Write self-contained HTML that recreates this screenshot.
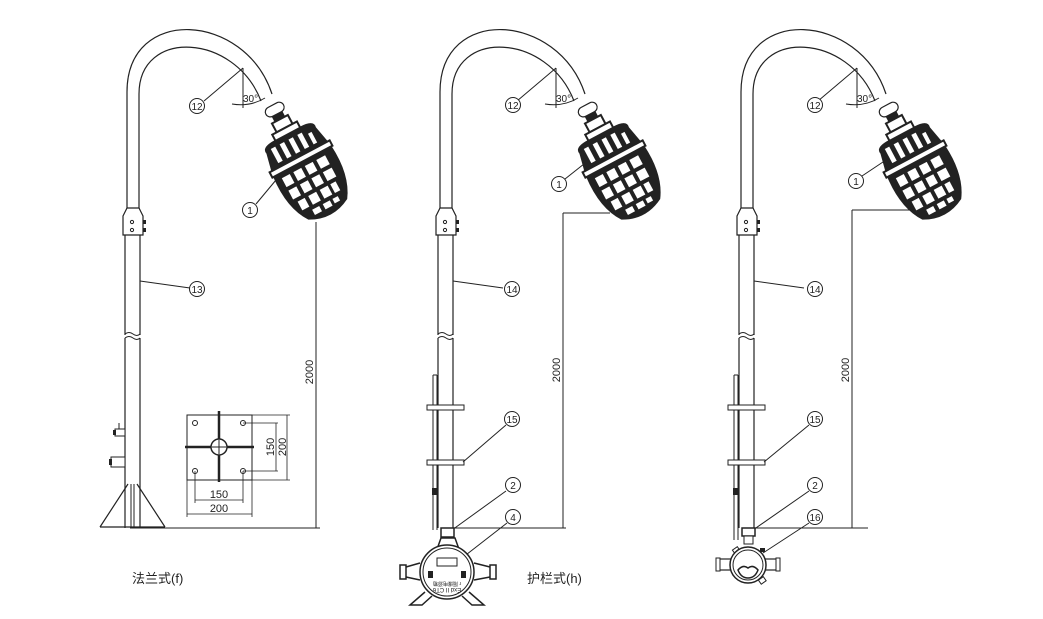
<!DOCTYPE html>
<html><head><meta charset="utf-8"><style>
html,body{margin:0;padding:0;background:#fff;}
svg{display:block;}
text{font-family:"Liberation Sans","Noto Sans CJK SC",sans-serif;fill:#222;}
</style></head><body>
<svg width="1043" height="619" viewBox="0 0 1043 619" xmlns="http://www.w3.org/2000/svg">
<defs>
<g id="lamp">
  <g transform="rotate(-28)">
    <rect x="-10" y="-78" width="20" height="10" rx="5" fill="#fff" stroke="#222" stroke-width="1.2"/>
    <rect x="-6" y="-68" width="12" height="6" fill="#222"/>
    <rect x="-9" y="-62" width="18" height="10" fill="#fff" stroke="#222" stroke-width="2"/>
    <rect x="-14" y="-52" width="28" height="8" fill="#fff" stroke="#222" stroke-width="2"/>
    <path d="M-28,-38 Q-30,-46 -14,-46 L14,-46 Q30,-46 28,-38 L32,-20 L-32,-20 Z" fill="#222"/>
    <rect x="-22" y="-40" width="5" height="16" fill="#fff"/>
    <rect x="-12" y="-40" width="5" height="16" fill="#fff"/>
    <rect x="-2" y="-40" width="5" height="16" fill="#fff"/>
    <rect x="8" y="-40" width="5" height="16" fill="#fff"/>
    <rect x="18" y="-36" width="4" height="12" fill="#fff"/>
    <rect x="-34" y="-20" width="68" height="6" fill="#fff" stroke="#222" stroke-width="2"/>
    <path d="M-33,-14 L33,-14 Q36,20 22,40 Q0,52 -22,40 Q-36,20 -33,-14 Z" fill="#222"/>
    <g fill="#fff">
      <rect x="-26" y="-9" width="9" height="10"/><rect x="-13" y="-9" width="9" height="10"/><rect x="0" y="-9" width="9" height="10"/><rect x="13" y="-9" width="10" height="10"/>
      <rect x="-26" y="5" width="9" height="10"/><rect x="-13" y="5" width="9" height="10"/><rect x="0" y="5" width="9" height="10"/><rect x="13" y="5" width="10" height="10"/>
      <rect x="-23" y="19" width="8" height="10"/><rect x="-11" y="19" width="9" height="10"/><rect x="2" y="19" width="9" height="10"/><rect x="14" y="19" width="6" height="10"/>
      <rect x="-14" y="33" width="8" height="6"/><rect x="-2" y="33" width="8" height="6"/><rect x="9" y="33" width="6" height="5"/>
    </g>
  </g>
</g>
<g id="pole">
  <path d="M127,210 V92 C127,5 245,12 272,94" fill="none" stroke="#222" stroke-width="1.2"/>
  <path d="M139,210 V94 C139,28 235,33 261,101" fill="none" stroke="#222" stroke-width="1.2"/>
  <path d="M123,235 V216 L127,208 H139 L143,216 V235 Z" fill="#fff" stroke="#222" stroke-width="1.2"/>
  <circle cx="132" cy="222" r="1.6" fill="none" stroke="#222"/><circle cx="132" cy="230" r="1.6" fill="none" stroke="#222"/>
  <rect x="143" y="220" width="3" height="4" fill="#222"/><rect x="143" y="228" width="3" height="4" fill="#222"/>
  <line x1="125" y1="235" x2="125" y2="335" stroke="#222" stroke-width="1.2"/>
  <line x1="140" y1="235" x2="140" y2="335" stroke="#222" stroke-width="1.2"/>
  <path d="M125,334 q4,-3 8,0 t7,0 M125,338 q4,-3 8,0 t7,0" fill="none" stroke="#222" stroke-width="1"/>
  <line x1="125" y1="338" x2="125" y2="528" stroke="#222" stroke-width="1.2"/>
  <line x1="140" y1="338" x2="140" y2="528" stroke="#222" stroke-width="1.2"/>
  <line x1="140" y1="281" x2="190" y2="288" stroke="#222"/>
  <line x1="243" y1="68" x2="243" y2="108" stroke="#222"/>
  <line x1="243" y1="68" x2="204" y2="101" stroke="#222"/>
  <path d="M232,104 Q250,107 265,98" fill="none" stroke="#222"/>
  <text x="243" y="102" font-size="10">30°</text>
  <use href="#lamp" transform="translate(309,174)"/>
</g>
<g id="circ"><circle r="7.5" fill="#fff" stroke="#222"/></g>
</defs>

<!-- pole 1 -->
<use href="#pole"/>
<line x1="256" y1="204" x2="276" y2="180" stroke="#222"/>
<use href="#circ" x="197" y="106"/><text x="197" y="110" font-size="10" text-anchor="middle">12</text>
<use href="#circ" x="250" y="210"/><text x="250" y="214" font-size="10" text-anchor="middle">1</text>
<use href="#circ" x="197" y="289"/><text x="197" y="293" font-size="10" text-anchor="middle">13</text>
<path d="M100,527 L128,484 M137,484 L165,527 M100,527 H165" fill="none" stroke="#222" stroke-width="1.2"/>
<line x1="131" y1="484" x2="131" y2="527" stroke="#222"/><line x1="134" y1="484" x2="134" y2="527" stroke="#222"/>
<rect x="115" y="429" width="10" height="7" fill="#fff" stroke="#222"/><line x1="119" y1="423" x2="119" y2="429" stroke="#222"/><rect x="113" y="430" width="3" height="5" fill="#222"/>
<rect x="111" y="457" width="14" height="10" fill="#fff" stroke="#222"/><rect x="109" y="459" width="3" height="6" fill="#222"/>
<line x1="130" y1="528" x2="320" y2="528" stroke="#222"/>
<rect x="187" y="415" width="65" height="65" fill="#fff" stroke="#222"/>
<line x1="219" y1="411" x2="219" y2="482" stroke="#222" stroke-width="2.5"/>
<line x1="185" y1="447" x2="254" y2="447" stroke="#222" stroke-width="2.5"/>
<circle cx="219" cy="447" r="8" fill="#fff" stroke="#222" stroke-width="1.5"/>
<line x1="212" y1="447" x2="226" y2="447" stroke="#222"/><line x1="219" y1="440" x2="219" y2="454" stroke="#222"/>
<g fill="none" stroke="#222"><circle cx="195" cy="423" r="2.5"/><circle cx="243" cy="423" r="2.5"/><circle cx="195" cy="471" r="2.5"/><circle cx="243" cy="471" r="2.5"/></g>
<g stroke="#222" stroke-width="0.8">
<line x1="243" y1="423" x2="278" y2="423"/><line x1="243" y1="471" x2="278" y2="471"/><line x1="276" y1="423" x2="276" y2="471"/>
<line x1="252" y1="415" x2="290" y2="415"/><line x1="252" y1="480" x2="290" y2="480"/><line x1="287" y1="415" x2="287" y2="480"/>
<line x1="195" y1="471" x2="195" y2="503"/><line x1="243" y1="471" x2="243" y2="503"/><line x1="195" y1="500" x2="243" y2="500"/>
<line x1="187" y1="480" x2="187" y2="517"/><line x1="252" y1="480" x2="252" y2="517"/><line x1="187" y1="514" x2="252" y2="514"/>
</g>
<text x="219" y="498" font-size="11" text-anchor="middle">150</text>
<text x="219" y="512" font-size="11" text-anchor="middle">200</text>
<text transform="translate(274,447) rotate(-90)" font-size="11" text-anchor="middle">150</text>
<text transform="translate(286,447) rotate(-90)" font-size="11" text-anchor="middle">200</text>
<line x1="316" y1="222" x2="316" y2="528" stroke="#222"/>
<text transform="translate(313,372) rotate(-90)" font-size="11" text-anchor="middle">2000</text>
<text x="132" y="583" font-size="13">法兰式(f)</text>

<!-- pole 2 -->
<g transform="translate(313,0)"><use href="#pole"/></g>
<line x1="565" y1="179" x2="589" y2="160" stroke="#222"/>
<use href="#circ" x="513" y="105"/><text x="513" y="109" font-size="10" text-anchor="middle">12</text>
<use href="#circ" x="559" y="184"/><text x="559" y="188" font-size="10" text-anchor="middle">1</text>
<use href="#circ" x="512" y="289"/><text x="512" y="293" font-size="10" text-anchor="middle">14</text>
<use href="#circ" x="512" y="419"/><text x="512" y="423" font-size="10" text-anchor="middle">15</text>
<use href="#circ" x="513" y="485"/><text x="513" y="489" font-size="10" text-anchor="middle">2</text>
<use href="#circ" x="513" y="517"/><text x="513" y="521" font-size="10" text-anchor="middle">4</text>
<line x1="433" y1="375" x2="433" y2="530" stroke="#222"/><line x1="437" y1="375" x2="437" y2="530" stroke="#222"/><line x1="433" y1="375" x2="437" y2="375" stroke="#222"/>
<rect x="427" y="405" width="37" height="5" fill="#fff" stroke="#222"/><rect x="427" y="460" width="37" height="5" fill="#fff" stroke="#222"/>
<rect x="432" y="488" width="5" height="7" fill="#222"/>
<line x1="463" y1="462" x2="506" y2="425" stroke="#222"/>
<line x1="452" y1="530" x2="506" y2="491" stroke="#222"/>
<line x1="462" y1="558" x2="507" y2="523" stroke="#222"/>
<line x1="453" y1="528" x2="566" y2="528" stroke="#222"/>
<line x1="563" y1="213" x2="563" y2="528" stroke="#222"/>
<line x1="563" y1="213" x2="610" y2="213" stroke="#222"/>
<text transform="translate(560,370) rotate(-90)" font-size="11" text-anchor="middle">2000</text>
<rect x="441" y="528" width="13" height="9" fill="#fff" stroke="#222" stroke-width="1.5"/>
<path d="M436,552 L441,538 H455 L460,552 Z" fill="#fff" stroke="#222" stroke-width="1.5"/>
<rect x="400" y="565" width="6" height="14" fill="#fff" stroke="#222" stroke-width="1.5"/><rect x="490" y="565" width="6" height="14" fill="#fff" stroke="#222" stroke-width="1.5"/>
<path d="M406,567 L420,563 M406,577 L420,580 M490,567 L474,563 M490,577 L474,580" stroke="#222" stroke-width="1.5"/>
<path d="M425,592 L410,605 H422 L432,596 M469,592 L484,605 H472 L462,596" fill="none" stroke="#222" stroke-width="1.5"/>
<circle cx="447" cy="572" r="27" fill="#fff" stroke="#222" stroke-width="1.5"/>
<circle cx="447" cy="572" r="24" fill="none" stroke="#222"/>
<rect x="437" y="558" width="20" height="8" fill="none" stroke="#222"/>
<rect x="428" y="571" width="5" height="7" fill="#222"/><rect x="461" y="571" width="5" height="7" fill="#222"/>
<text x="447" y="586" font-size="5" text-anchor="middle" transform="rotate(180 447 584)">r 隔爆电源箱</text>
<text x="447" y="592" font-size="6" text-anchor="middle" transform="rotate(180 447 590)">Exd II CT6</text>
<text x="527" y="583" font-size="13">护栏式(h)</text>

<!-- pole 3 -->
<g transform="translate(614,0)"><use href="#pole"/></g>
<line x1="862" y1="176" x2="889" y2="158" stroke="#222"/>
<use href="#circ" x="815" y="105"/><text x="815" y="109" font-size="10" text-anchor="middle">12</text>
<use href="#circ" x="856" y="181"/><text x="856" y="185" font-size="10" text-anchor="middle">1</text>
<use href="#circ" x="815" y="289"/><text x="815" y="293" font-size="10" text-anchor="middle">14</text>
<use href="#circ" x="815" y="419"/><text x="815" y="423" font-size="10" text-anchor="middle">15</text>
<use href="#circ" x="815" y="485"/><text x="815" y="489" font-size="10" text-anchor="middle">2</text>
<use href="#circ" x="815" y="517"/><text x="815" y="521" font-size="10" text-anchor="middle">16</text>
<line x1="734" y1="375" x2="734" y2="540" stroke="#222"/><line x1="738" y1="375" x2="738" y2="540" stroke="#222"/><line x1="734" y1="375" x2="738" y2="375" stroke="#222"/>
<rect x="728" y="405" width="37" height="5" fill="#fff" stroke="#222"/><rect x="728" y="460" width="37" height="5" fill="#fff" stroke="#222"/>
<rect x="733" y="488" width="5" height="7" fill="#222"/>
<line x1="764" y1="462" x2="809" y2="425" stroke="#222"/>
<line x1="753" y1="530" x2="809" y2="491" stroke="#222"/>
<line x1="763" y1="553" x2="809" y2="523" stroke="#222"/>
<line x1="754" y1="528" x2="868" y2="528" stroke="#222"/>
<line x1="852" y1="210" x2="852" y2="528" stroke="#222"/>
<line x1="852" y1="210" x2="912" y2="210" stroke="#222"/>
<text transform="translate(849,370) rotate(-90)" font-size="11" text-anchor="middle">2000</text>
<rect x="742" y="528" width="13" height="8" fill="#fff" stroke="#222" stroke-width="1.5"/>
<rect x="744" y="536" width="9" height="8" fill="#fff" stroke="#222"/>
<rect x="718" y="559" width="14" height="11" fill="#fff" stroke="#222" stroke-width="1.2"/><rect x="764" y="559" width="14" height="11" fill="#fff" stroke="#222" stroke-width="1.2"/>
<rect x="716" y="558" width="4" height="13" fill="#fff" stroke="#222"/><rect x="776" y="558" width="4" height="13" fill="#fff" stroke="#222"/>
<rect x="733" y="548" width="6" height="5" fill="#fff" stroke="#222" transform="rotate(-35 736 550)"/>
<rect x="759" y="578" width="6" height="5" fill="#fff" stroke="#222" transform="rotate(-35 762 580)"/>
<rect x="760" y="548" width="5" height="4" fill="#222"/>
<circle cx="748" cy="565" r="18" fill="#fff" stroke="#222" stroke-width="1.5"/>
<circle cx="748" cy="565" r="15" fill="none" stroke="#222"/>
<path d="M738,570 Q743,564 748,568 Q753,564 758,570 Q755,578 748,578 Q741,578 738,570 Z" fill="#fff" stroke="#222" stroke-width="1.5"/>
</svg>
</body></html>
